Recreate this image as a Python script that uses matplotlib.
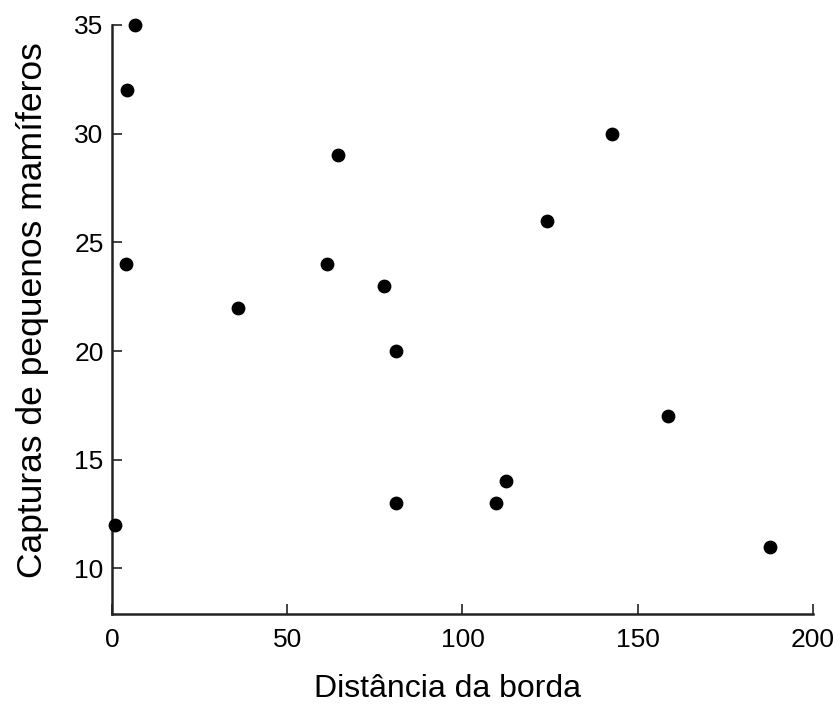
import matplotlib
matplotlib.use("Agg")
import matplotlib.pyplot as plt

plt.rcParams['font.family'] = ['Liberation Sans', 'DejaVu Sans']

# Distance from the forest edge and small-mammal captures at each site
distancia = [6.6, 4.3, 4.0, 0.9, 36.0, 61.4, 64.6, 77.7, 80.9, 80.9,
             109.7, 112.3, 124.0, 142.6, 158.6, 187.7]
capturas = [35, 32, 24, 12, 22, 24, 29, 23, 20, 13,
            13, 14, 26, 30, 17, 11]

x_ticks = [0, 50, 100, 150, 200]
y_ticks = [10, 15, 20, 25, 30, 35]

fig = plt.figure(figsize=(8.4, 7.04), dpi=100)
ax = fig.add_axes([0.1333, 0.1278, 0.8345, 0.8367])

ax.scatter(distancia, capturas, s=80, color='black', zorder=3, clip_on=False)

ax.set_xlim(0, 200)
ax.set_ylim(7.9, 35)
ax.set_xticks(x_ticks)
ax.set_yticks(y_ticks)

for side in ('top', 'right'):
    ax.spines[side].set_visible(False)
for side in ('left', 'bottom'):
    ax.spines[side].set_linewidth(1.8)
    ax.spines[side].set_color('#222222')

ax.tick_params(direction='in', length=7, width=1.2, labelsize=19,
               colors='#222222', labelcolor='black')
ax.tick_params(axis='y', pad=6)
ax.tick_params(axis='x', pad=10)

ax.set_xlabel('Distância da borda', fontsize=23, labelpad=16)
ax.set_ylabel('Capturas de pequenos mamíferos', fontsize=25.5, labelpad=18)
ax.xaxis.label.set_x(0.479)
ax.yaxis.label.set_y(0.516)

fig.savefig('out.png', dpi=100, facecolor='white')
